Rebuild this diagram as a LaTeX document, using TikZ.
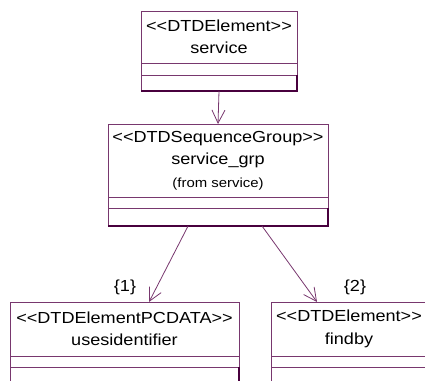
\documentclass[tikz,border=0pt]{standalone}
\usepackage{fontspec}
\usepackage{xcolor}
\usetikzlibrary{positioning,calc,arrows.meta}
\newfontfamily\umlfamily{Liberation Sans}[FakeStretch=1.13, Ligatures=TeXOff]
\newcommand{\umlfont}{\umlfamily\fontsize{16}{22.5}\selectfont}
\newcommand{\umlsmall}{\fontsize{13.2}{20}\selectfont}
\definecolor{rosepurple}{RGB}{120,55,110}
\definecolor{rosedark}{RGB}{72,0,62}

\begin{document}
\begin{tikzpicture}[x=1pt, y=-1pt, line width=0.8pt,
  classhead/.style={draw=rosepurple, fill=white, anchor=north west, outer sep=0pt,
    inner sep=0pt, align=center, font=\umlfont},
  classpart/.style={draw=rosepurple, fill=white, outer sep=0pt, inner sep=0pt},
  shadowline/.style={draw=rosedark, line width=1.6pt},
  assoc/.style={draw=rosepurple, -{Straight Barb[length=13pt, width=13pt]}},
  mult/.style={font=\umlfont, inner sep=0pt}]
  \useasboundingbox (0,0) rectangle (425,380);
  \clip (0,0) rectangle (425,380);

  % service
  \node[classhead, minimum width=156pt, minimum height=52pt] (service) at (141,11) {<<DTDElement>>\\service};
  \node[classpart, minimum width=156pt, minimum height=12pt, below=0pt of service] (serviceattr) {};
  \node[classpart, minimum width=156pt, minimum height=16pt, below=0pt of serviceattr] (serviceops) {};
  \draw[shadowline] (serviceops.south west) -- (serviceops.south east) -- (serviceops.north east);

  % service_grp
  \node[classhead, minimum width=220pt, minimum height=73pt] (sgrp) at (108,124)
    {<<DTDSequenceGroup>>\\service\_grp\\{\umlsmall (from service)}};
  \node[classpart, minimum width=220pt, minimum height=11pt, below=0pt of sgrp] (sgrpattr) {};
  \node[classpart, minimum width=220pt, minimum height=18pt, below=0pt of sgrpattr] (sgrpops) {};
  \draw[shadowline] (sgrpops.south west) -- (sgrpops.south east) -- (sgrpops.north east);

  % usesidentifier
  \node[classhead, minimum width=229pt, minimum height=54pt] (pcdata) at (10,302) {<<DTDElementPCDATA>>\\usesidentifier};
  \node[classpart, minimum width=229pt, minimum height=11pt, below=0pt of pcdata] (pcdataattr) {};
  \node[classpart, minimum width=229pt, minimum height=18pt, below=0pt of pcdataattr] (pcdataops) {};
  \draw[shadowline] (pcdataops.south west) -- (pcdataops.south east) -- (pcdataops.north east);

  % findby
  \node[classhead, minimum width=156pt, minimum height=54pt] (findby) at (271,302) {<<DTDElement>>\\findby};
  \node[classpart, minimum width=156pt, minimum height=11pt, below=0pt of findby] (findbyattr) {};
  \node[classpart, minimum width=156pt, minimum height=18pt, below=0pt of findbyattr] (findbyops) {};
  \draw[shadowline] (findbyops.south west) -- (findbyops.south east) -- (findbyops.north east);

  % Associations
  \draw[assoc] (serviceops.south) -- (sgrp.north);
  \draw[assoc] ($(sgrpops.south west)!0.364!(sgrpops.south east)$) -- ($(pcdata.north west)!0.607!(pcdata.north east)$);
  \draw[assoc] ($(sgrpops.south west)!0.70!(sgrpops.south east)$) -- ($(findby.north west)!0.295!(findby.north east)$);

  % Multiplicities
  \node[mult] (mult1) at ($(pcdata.north west)+(115,-15)$) {\{1\}};
  \node[mult] (mult2) at ($(findby.north west)+(84,-15)$) {\{2\}};
\end{tikzpicture}
\end{document}
